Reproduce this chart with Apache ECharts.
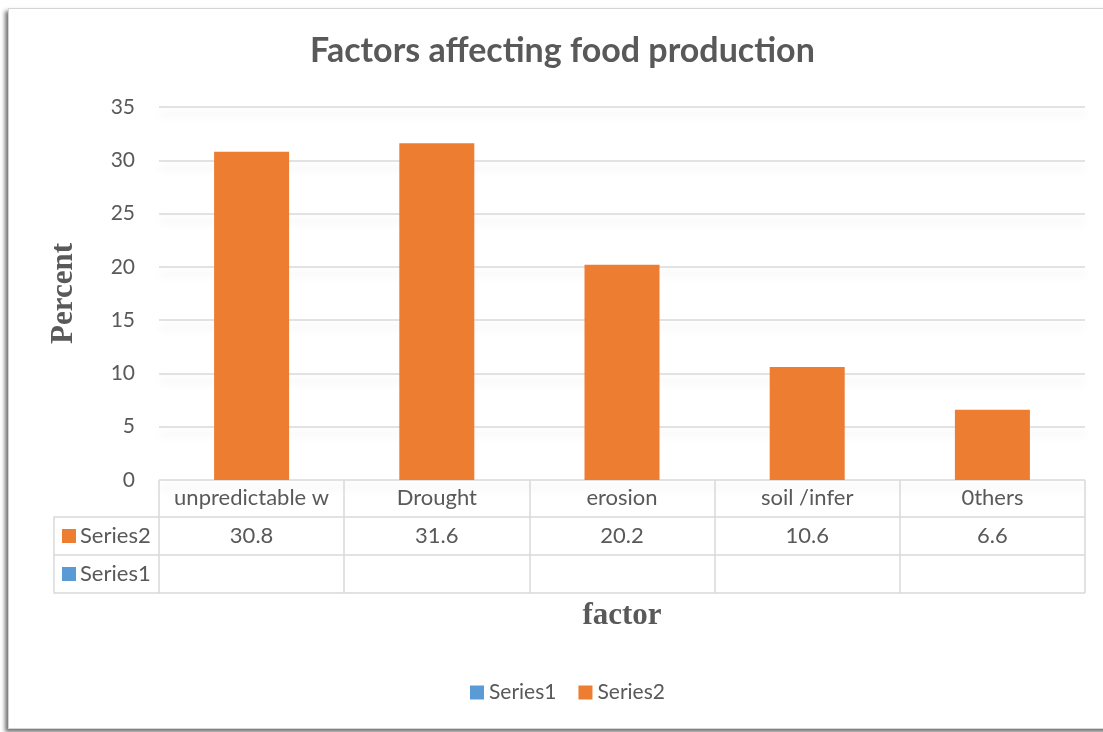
<!DOCTYPE html>
<html>
<head>
<meta charset="utf-8">
<script src="https://cdn.jsdelivr.net/npm/echarts@6/dist/echarts.min.js"></script>
<style>
  html, body { margin: 0; padding: 0; background: #ffffff; overflow: hidden; }
  #frame { position: absolute; left: 8px; top: 8px; width: 1110px; height: 719px;
           border: 1px solid #d4d4d4; background: #fff;
           box-shadow: -3px 3px 4px rgba(0,0,0,0.55); }
  #main { position: absolute; left: 0; top: 0; width: 1103px; height: 732px; }
</style>
</head>
<body>
<div id="frame"></div>
<div id="main"></div>
<script>
const categories = ['unpredictable w', 'Drought', 'erosion', 'soil /infer', '0thers'];
const series2Values = [30.8, 31.6, 20.2, 10.6, 6.6];
const series1Values = [null, null, null, null, null];
const seriesNames = ['Series1', 'Series2'];
const tableRows = ['Series2', 'Series1'];
const yMin = 0, yMax = 35, yStep = 5;

const TXT = '#595959';
const GRIDC = '#d9d9d9';
const ORANGE = '#ED7D31';
const BLUE = '#5B9BD5';
const SANS = 'Lato, "Open Sans", sans-serif';
const SERIF = '"Liberation Serif", "DejaVu Serif", serif';

const chart = echarts.init(document.getElementById('main'), null, { renderer: 'canvas' });

const option = {
  backgroundColor: 'transparent',
  animation: false,
  title: {
    text: 'Factors affecting food production',
    left: 305, top: 29,
    textStyle: { fontFamily: SANS, fontWeight: 'bold', fontSize: 34, color: TXT }
  },
  legend: {
    data: seriesNames,
    left: 465, top: 677,
    itemWidth: 14, itemHeight: 14, itemGap: 22,
    icon: 'rect',
    textStyle: { fontFamily: SANS, fontSize: 21, color: TXT, padding: [0, 0, 0, 0] }
  },
  grid: [
    { left: 159, right: 18, top: 107, height: 373, containLabel: false },
    { left: 54, right: 18, top: 517, height: 76, containLabel: false }
  ],
  xAxis: [
    {
      type: 'category', gridIndex: 0, data: categories,
      boundaryGap: true,
      axisLine: { show: false },
      axisTick: { show: true, alignWithLabel: false, length: 113,
                  lineStyle: { color: GRIDC, width: 1.5 } },
      axisLabel: {
        interval: 0, margin: -1,
        formatter: function (value, idx) {
          const v = series2Values[idx];
          return '{h|' + value + '}\n{v|' + (v == null ? '' : String(v)) + '}';
        },
        rich: {
          h: { fontFamily: SANS, fontSize: 22, color: TXT, lineHeight: 38 },
          v: { fontFamily: SANS, fontSize: 22, color: TXT, lineHeight: 38 }
        }
      },
      name: 'factor', nameLocation: 'middle', nameGap: 120,
      nameTextStyle: { fontFamily: SERIF, fontWeight: 'bold', fontSize: 31, color: TXT }
    },
    {
      type: 'category', gridIndex: 1, data: categories, show: false
    }
  ],
  yAxis: [
    {
      type: 'value', gridIndex: 0, min: yMin, max: yMax, interval: yStep,
      axisLine: { show: false }, axisTick: { show: false },
      axisLabel: { fontFamily: SANS, fontSize: 21, color: TXT, margin: 24 },
      splitLine: { show: true, lineStyle: { color: GRIDC, width: 1.5,
        shadowColor: 'rgba(0,0,0,0.13)', shadowBlur: 8, shadowOffsetY: 7 } },
      name: 'Percent', nameLocation: 'middle', nameGap: 80, nameRotate: 90,
      nameTextStyle: { fontFamily: SERIF, fontWeight: 'bold', fontSize: 31, color: TXT }
    },
    {
      type: 'category', gridIndex: 1, data: tableRows, inverse: true,
      boundaryGap: true,
      axisLine: { show: true, lineStyle: { color: GRIDC, width: 1.5 } },
      axisTick: { show: false },
      splitLine: { show: true, interval: 0, lineStyle: { color: GRIDC, width: 1.5 } },
      axisLabel: {
        inside: true, margin: 8, interval: 0,
        formatter: function (value) {
          return '{' + (value === 'Series1' ? 'b' : 'o') + '|}{t|' + value + '}';
        },
        rich: {
          o: { width: 14, height: 14, backgroundColor: ORANGE },
          b: { width: 14, height: 14, backgroundColor: BLUE },
          t: { fontFamily: SANS, fontSize: 22, color: TXT, padding: [0, 0, 0, 4] }
        }
      }
    }
  ],
  series: [
    {
      name: 'Series1', type: 'bar', xAxisIndex: 0, yAxisIndex: 0,
      data: series1Values, barWidth: 75, barGap: '-100%',
      itemStyle: { color: BLUE }
    },
    {
      name: 'Series2', type: 'bar', xAxisIndex: 0, yAxisIndex: 0,
      data: series2Values, barWidth: 75, barGap: '-100%',
      itemStyle: { color: ORANGE }
    }
  ]
};
chart.setOption(option);
</script>
</body>
</html>
